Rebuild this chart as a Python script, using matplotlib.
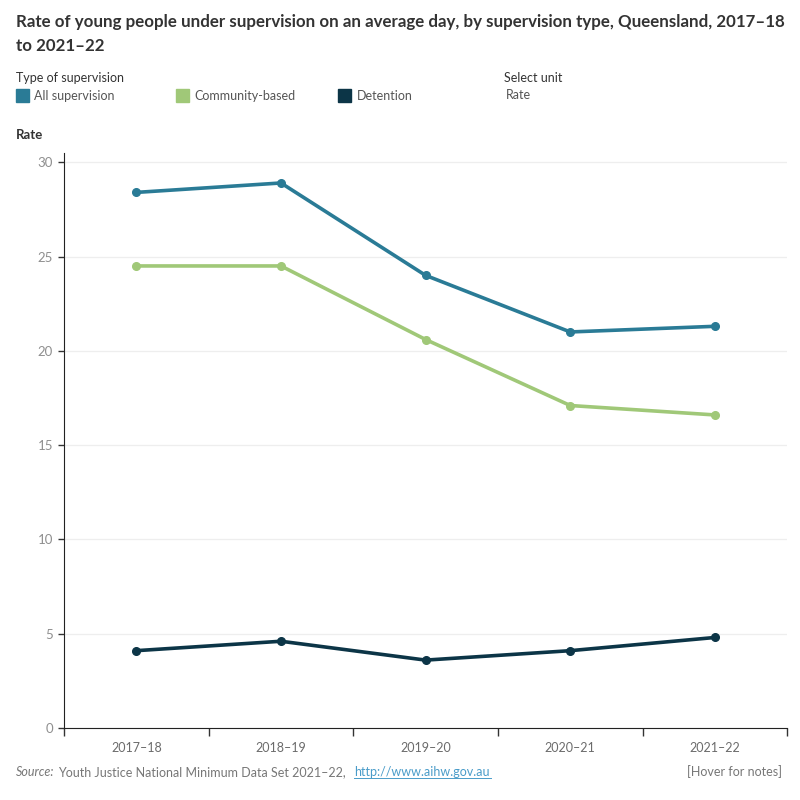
import matplotlib.pyplot as plt
from matplotlib.patches import Rectangle
import numpy as np

# datos
years = ["2017–18", "2018–19", "2019–20", "2020–21", "2021–22"]
all_supervision = [28.4, 28.9, 24.0, 21.0, 21.3]
community_based = [24.5, 24.5, 20.6, 17.1, 16.6]
detention = [4.1, 4.6, 3.6, 4.1, 4.8]

series = [
    ("All supervision", all_supervision, "#2a7b96"),
    ("Community-based", community_based, "#a0c878"),
    ("Detention", detention, "#0c3547"),
]

plt.rcParams['font.family'] = ['Lato', 'DejaVu Sans']

fig = plt.figure(figsize=(8, 8), dpi=100)
ax = fig.add_axes([0.08, 0.09, 0.904, 0.719])

x = np.arange(len(years))
for name, vals, col in series:
    ax.plot(x, vals, color=col, lw=2.6, marker="o", ms=5.5, solid_capstyle="round", zorder=3)

ax.set_xlim(-0.5, len(years) - 0.5)
ax.set_ylim(0, 30.5)
ax.set_yticks([0, 5, 10, 15, 20, 25, 30])
ax.set_xticks(x)
ax.set_xticklabels(years)
ax.set_xticks(np.arange(-0.5, len(years)), minor=True)
ax.tick_params(axis="x", which="major", length=0, pad=10, labelsize=9, labelcolor="#6b6b6b")
ax.tick_params(axis="x", which="minor", length=6, width=1, color="#333333")
ax.tick_params(axis="y", length=4, width=1, color="#333333", labelsize=9.5, labelcolor="#8f8f8f", pad=4)
ax.grid(axis="y", color="#eeeeee", lw=0.9)
ax.set_axisbelow(True)
for s in ["top", "right"]:
    ax.spines[s].set_visible(False)
ax.spines["left"].set_color("#222222")
ax.spines["bottom"].set_color("#222222")

# titulo
fig.text(0.02, 0.972, "Rate of young people under supervision on an average day, by supervision type, Queensland, 2017–18",
         fontsize=12.2, fontweight="bold", color="#333333", va="center")
fig.text(0.02, 0.943, "to 2021–22", fontsize=12.2, fontweight="bold", color="#333333", va="center")

# leyenda
fig.text(0.02, 0.902, "Type of supervision", fontsize=9, color="#333333", va="center")
legend_x = [0.02, 0.22, 0.423]
for (name, vals, col), lx in zip(series, legend_x):
    fig.patches.append(Rectangle((lx, 0.873), 0.016, 0.016, transform=fig.transFigure, color=col))
    fig.text(lx + 0.023, 0.88, name, fontsize=9, color="#555555", va="center")
fig.text(0.63, 0.903, "Select unit", fontsize=9, color="#333333", va="center")
fig.text(0.632, 0.881, "Rate", fontsize=9, color="#555555", va="center")

fig.text(0.02, 0.831, "Rate", fontsize=9.5, fontweight="bold", color="#333333", va="center")

# fuente
fig.text(0.02, 0.035, "Source:", fontsize=9, style="italic", color="#777777", va="center")
fig.text(0.073, 0.035, "Youth Justice National Minimum Data Set 2021–22,", fontsize=9, color="#777777", va="center")
fig.text(0.443, 0.035, "http://www.aihw.gov.au", fontsize=9, color="#4a9cc9", va="center")
fig.add_artist(plt.Line2D([0.443, 0.614], [0.027, 0.027], transform=fig.transFigure, color="#4a9cc9", lw=0.7))
fig.text(0.978, 0.035, "[Hover for notes]", fontsize=9, color="#777777", va="center", ha="right")

fig.savefig("out.png", dpi=100)
